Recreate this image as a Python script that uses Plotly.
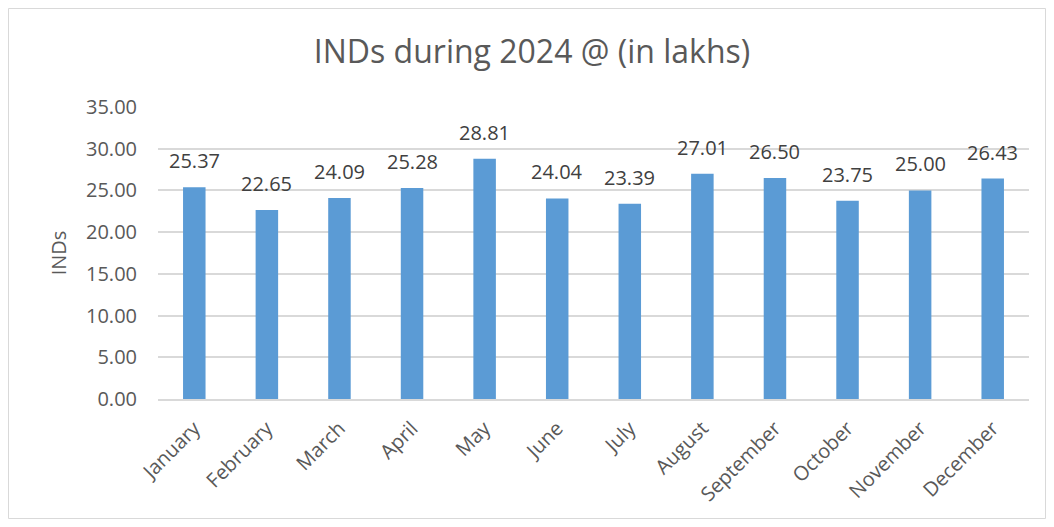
import plotly.graph_objects as go

months = ["January", "February", "March", "April", "May", "June", "July",
          "August", "September", "October", "November", "December"]
inds = [25.37, 22.65, 24.09, 25.28, 28.81, 24.04, 23.39, 27.01, 26.50, 23.75, 25.00, 26.43]
y_ticks = [0, 5, 10, 15, 20, 25, 30, 35]

FONT = "Open Sans"
GRAY = "#595959"

fig = go.Figure(go.Bar(
    x=months, y=inds,
    marker=dict(color="#5B9BD5", line=dict(width=0)),
    width=0.31,
    cliponaxis=False,
))

for m, v in zip(months, inds):
    fig.add_annotation(x=m, y=v, text=f"{v:.2f}", showarrow=False,
                       yanchor="bottom", yshift=11,
                       font=dict(family=FONT, size=20, color="#404040"))

# body has an 8px margin in the page, so figure coords = screen - 8
W, H = 1038, 511
L, R, T, B = 150, 17, 99, 120
pw, ph = W - L - R, H - T - B

fig.update_layout(
    width=W, height=H,
    margin=dict(l=L, r=R, t=T, b=B, autoexpand=False),
    paper_bgcolor="white", plot_bgcolor="white",
    title=dict(text="INDs during 2024 @ (in lakhs)", x=524 / W, xanchor="center",
               y=1 - 44 / H, yanchor="middle",
               font=dict(family=FONT, size=32, color=GRAY)),
    font=dict(family=FONT, color=GRAY),
    showlegend=False,
    xaxis=dict(tickangle=-45, tickfont=dict(family=FONT, size=20, color=GRAY),
               showgrid=False, showline=True, linecolor="#D9D9D9", linewidth=1.5,
               ticks="", ticklabelstandoff=8, automargin=False),
    yaxis=dict(range=[0, 35], tickvals=y_ticks, tickformat=".2f",
               tickfont=dict(family=FONT, size=20, color=GRAY),
               showgrid=True, gridcolor="#D9D9D9", gridwidth=1.5,
               zeroline=False, showline=False, ticks="", ticklabelstandoff=20,
               automargin=False,
               title=dict(text="INDs", font=dict(family=FONT, size=20, color=GRAY),
                          standoff=14)),
    shapes=[dict(type="rect", xref="paper", yref="paper",
                 x0=(0.5 - L) / pw, x1=(W - 0.5 - L) / pw,
                 y0=(H - B - (H - 0.5)) / ph, y1=(H - B - 0.5) / ph,
                 line=dict(color="#D9D9D9", width=1), layer="below")],
)

fig.write_html("out.html")
